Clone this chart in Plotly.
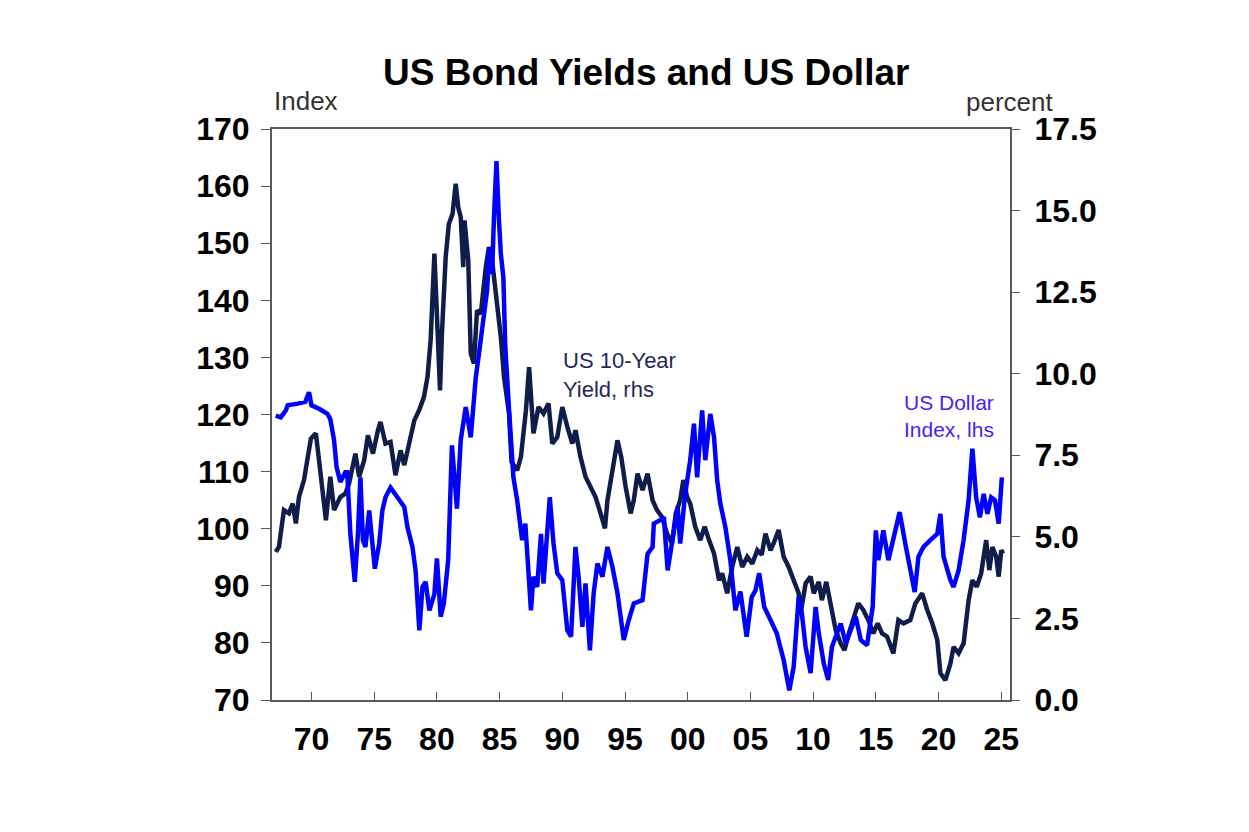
import plotly.graph_objects as go

# ---- data ----
dxy_year = [1967.15, 1967.55, 1967.95, 1968.1, 1968.9, 1969.5, 1969.8, 1970.0, 1970.6, 1971.27, 1971.5, 1971.8,
            1972.0, 1972.3, 1972.7, 1972.85, 1973.1, 1973.45, 1973.7, 1973.9, 1974.1, 1974.3, 1974.6, 1975.05,
            1975.4, 1975.65, 1975.9, 1976.3, 1976.85, 1977.4, 1977.65, 1978.05, 1978.3, 1978.6, 1978.85, 1979.1,
            1979.4, 1979.8, 1980.0, 1980.3, 1980.55, 1980.9, 1981.2, 1981.6, 1981.9, 1982.3, 1982.7, 1982.9,
            1983.1, 1983.35, 1983.6, 1984.0, 1984.2, 1984.4, 1984.55, 1984.75, 1984.95, 1985.1, 1985.3, 1985.45,
            1985.75, 1986.1, 1986.4, 1986.8, 1987.05, 1987.5, 1987.7, 1988.0, 1988.3, 1988.5, 1989.0, 1989.3,
            1989.6, 1990.0, 1990.4, 1990.7, 1991.05, 1991.3, 1991.6, 1991.85, 1992.2, 1992.5, 1992.8, 1993.2,
            1993.6, 1994.0, 1994.4, 1994.9, 1995.3, 1995.7, 1996.4, 1996.8, 1997.2, 1997.3, 1997.8, 1998.1,
            1998.4, 1998.8, 1999.2, 1999.4, 1999.8, 2000.2, 2000.5, 2000.75, 2001.15, 2001.4, 2001.8, 2002.1,
            2002.35, 2002.6, 2003.0, 2003.4, 2003.8, 2004.2, 2004.7, 2005.1, 2005.4, 2005.7, 2006.1, 2006.6,
            2007.1, 2007.65, 2008.1, 2008.45, 2008.85, 2009.1, 2009.4, 2009.8, 2010.2, 2010.45, 2010.85, 2011.2,
            2011.5, 2011.9, 2012.2, 2012.6, 2013.0, 2013.4, 2013.8, 2014.3, 2014.75, 2015.0, 2015.2, 2015.6,
            2016.0, 2016.4, 2016.9, 2017.35, 2017.75, 2018.1, 2018.4, 2018.8, 2019.35, 2019.9, 2020.15, 2020.4,
            2020.95, 2021.2, 2021.6, 2022.0, 2022.4, 2022.7, 2023.0, 2023.3, 2023.6, 2023.9, 2024.2, 2024.5,
            2024.8, 2025.05]
dxy_value = [119.8, 119.5, 120.7, 121.6, 121.9, 122.2, 123.9, 121.6, 121.0, 120.1, 119.2, 115.5,
             110.8, 108.2, 109.9, 109.9, 99.1, 90.7, 99.1, 109.0, 98.0, 96.8, 103.2, 93.0,
             97.4, 103.2, 105.5, 107.2, 105.5, 103.8, 100.3, 96.8, 92.7, 82.2, 89.8, 90.7,
             85.7, 88.6, 94.8, 84.6, 86.9, 94.5, 114.6, 103.5, 115.5, 121.3, 116.0, 122.4,
             126.5, 130.6, 135.3, 141.7, 149.2, 144.6, 154.5, 164.4, 153.9, 148.1, 144.0, 132.0,
             121.0, 109.0, 105.0, 98.0, 100.9, 85.7, 91.6, 89.8, 99.1, 90.4, 105.5, 97.4,
             92.2, 91.0, 82.2, 81.1, 96.8, 91.6, 82.8, 90.4, 78.7, 88.7, 93.9, 91.6,
             96.8, 93.3, 88.7, 80.5, 84.0, 86.9, 87.5, 95.6, 96.8, 100.9, 101.5, 102.0,
             92.7, 98.0, 103.8, 97.4, 106.1, 112.0, 118.4, 109.0, 120.7, 112.0, 120.1, 116.0,
             108.5, 104.4, 100.3, 94.5, 85.7, 89.0, 81.1, 88.0, 89.2, 92.2, 86.3, 84.0,
             81.7, 77.0, 71.7, 75.8, 88.1, 85.2, 79.3, 74.7, 86.3, 81.7, 76.4, 73.5,
             79.3, 81.7, 83.4, 79.9, 82.2, 84.6, 80.5, 79.6, 86.3, 99.7, 94.5, 99.7,
             94.5, 98.0, 102.9, 97.4, 92.7, 88.9, 95.1, 96.8, 98.0, 99.1, 102.6, 95.1,
             91.0, 89.8, 92.7, 98.0, 105.0, 114.0, 105.5, 102.0, 106.1, 102.6, 105.5, 105.0,
             100.9, 109.0]

yld_year = [1967.15, 1967.4, 1967.8, 1968.2, 1968.5, 1968.75, 1969.0, 1969.4, 1969.95, 1970.35, 1970.6, 1970.9,
            1971.15, 1971.5, 1971.8, 1972.3, 1972.7, 1973.0, 1973.5, 1973.8, 1974.2, 1974.5, 1974.9, 1975.3,
            1975.5, 1975.9, 1976.3, 1976.7, 1977.1, 1977.4, 1977.8, 1978.2, 1978.6, 1978.97, 1979.25, 1979.5,
            1979.8, 1980.05, 1980.25, 1980.4, 1980.7, 1980.95, 1981.25, 1981.5, 1981.7, 1981.9, 1982.1, 1982.2,
            1982.5, 1982.7, 1982.95, 1983.2, 1983.5, 1983.9, 1984.15, 1984.4, 1984.7, 1984.9, 1985.1, 1985.35,
            1985.75, 1985.95, 1986.4, 1986.7, 1987.1, 1987.35, 1987.5, 1987.7, 1988.1, 1988.5, 1988.9, 1989.2,
            1989.6, 1990.0, 1990.4, 1990.8, 1991.05, 1991.45, 1991.85, 1992.25, 1992.65, 1993.05, 1993.4, 1993.6,
            1994.0, 1994.4, 1994.7, 1995.05, 1995.45, 1995.7, 1996.0, 1996.4, 1996.8, 1997.2, 1997.55, 1997.95,
            1998.35, 1998.75, 1999.05, 1999.4, 1999.65, 1999.95, 2000.2, 2000.6, 2001.0, 2001.35, 2001.7, 2002.1,
            2002.5, 2002.75, 2003.15, 2003.55, 2003.95, 2004.35, 2004.75, 2005.15, 2005.55, 2005.9, 2006.2, 2006.6,
            2006.85, 2007.25, 2007.65, 2008.05, 2008.45, 2008.85, 2009.0, 2009.4, 2009.8, 2010.05, 2010.45, 2010.7,
            2011.05, 2011.4, 2011.8, 2012.2, 2012.5, 2012.85, 2013.2, 2013.6, 2014.0, 2014.4, 2014.8, 2015.15,
            2015.5, 2015.9, 2016.4, 2016.8, 2017.2, 2017.75, 2018.15, 2018.7, 2019.1, 2019.5, 2019.9, 2020.15,
            2020.55, 2020.95, 2021.2, 2021.6, 2022.0, 2022.4, 2022.7, 2023.05, 2023.4, 2023.8, 2024.05, 2024.3,
            2024.6, 2024.8, 2025.0, 2025.15]
yld_value = [4.54, 4.69, 5.82, 5.72, 6.02, 5.41, 6.22, 6.74, 8.01, 8.17, 7.35, 6.22,
             5.51, 6.84, 5.82, 6.22, 6.33, 6.64, 7.55, 6.84, 7.35, 8.11, 7.55, 8.27,
             8.52, 7.86, 7.91, 6.89, 7.65, 7.20, 7.96, 8.57, 8.90, 9.29, 9.90, 11.02,
             13.68, 11.63, 9.49, 11.23, 13.57, 14.59, 14.90, 15.82, 15.10, 14.80, 13.27, 14.70,
             13.47, 10.62, 10.31, 11.94, 11.84, 13.27, 13.88, 13.47, 12.55, 11.84, 11.12, 9.90,
             8.78, 7.30, 7.04, 7.45, 8.88, 10.20, 9.19, 8.17, 8.98, 8.78, 9.09, 7.86,
             8.06, 8.98, 8.37, 7.86, 8.27, 7.45, 6.84, 6.53, 6.22, 5.72, 5.26, 6.12,
             7.14, 7.96, 7.45, 6.53, 5.72, 6.12, 6.94, 6.43, 6.94, 6.12, 5.82, 5.61,
             5.10, 4.80, 5.72, 6.12, 6.74, 6.22, 6.02, 5.31, 4.90, 5.31, 4.90, 4.49,
             3.67, 3.88, 3.27, 4.08, 4.69, 4.08, 4.39, 4.18, 4.59, 4.45, 5.10, 4.59,
             4.80, 5.21, 4.39, 4.08, 3.67, 3.27, 2.65, 3.57, 3.78, 3.27, 3.62, 3.06,
             3.62, 2.86, 2.14, 1.74, 1.53, 2.04, 2.45, 2.96, 2.76, 2.45, 2.04, 2.35,
             2.04, 1.94, 1.43, 2.45, 2.35, 2.45, 2.96, 3.27, 2.76, 2.35, 1.84, 0.82,
             0.61, 1.12, 1.63, 1.43, 1.74, 3.06, 3.67, 3.47, 3.88, 4.90, 3.98, 4.69,
             4.39, 3.78, 4.59, 4.49]

x_tick_vals = [1970, 1975, 1980, 1985, 1990, 1995, 2000, 2005, 2010, 2015, 2020, 2025]
x_tick_text = ["70", "75", "80", "85", "90", "95", "00", "05", "10", "15", "20", "25"]
left_ticks = [70, 80, 90, 100, 110, 120, 130, 140, 150, 160, 170]
right_ticks = [0.0, 2.5, 5.0, 7.5, 10.0, 12.5, 15.0, 17.5]

NAVY = "#0f1d4a"
BLUE = "#0000ff"
AXIS = "#595959"
FAM = "Liberation Sans, Arial, sans-serif"
TICKFONT = dict(family=FAM, size=32, color="black", weight="bold")

fig = go.Figure()
fig.add_trace(go.Scatter(x=yld_year, y=yld_value, mode="lines", yaxis="y",
                         line=dict(color=NAVY, width=4.5), name="US 10-Year Yield, rhs"))
fig.add_trace(go.Scatter(x=dxy_year, y=dxy_value, mode="lines", yaxis="y2",
                         line=dict(color=BLUE, width=4.5), name="US Dollar Index, lhs"))

fig.update_layout(
    width=1249, height=832,
    paper_bgcolor="white", plot_bgcolor="white",
    showlegend=False,
    margin=dict(l=264, r=247, t=121, b=140),
    title=dict(text="<b>US Bond Yields and US Dollar</b>", x=0.511, xanchor="center", y=0.923, yanchor="middle",
               font=dict(family=FAM, size=37, color="black")),
    xaxis=dict(range=[1966.85, 2025.7], tickvals=x_tick_vals, ticktext=x_tick_text,
               showgrid=False, zeroline=False, showline=True, linecolor=AXIS, linewidth=2, mirror=True,
               ticks="inside", ticklen=8, tickcolor=AXIS, tickwidth=1, tickfont=TICKFONT,
               ticklabelstandoff=10),
    yaxis=dict(side="right", range=[0, 17.5], tickvals=right_ticks,
               ticktext=[f"{v:.1f}" for v in right_ticks],
               showgrid=False, zeroline=False, showline=True, linecolor=AXIS, linewidth=2,
               ticks="outside", ticklen=8, tickcolor=AXIS, tickwidth=1, tickfont=TICKFONT,
               ticklabelstandoff=8),
    yaxis2=dict(side="left", overlaying="y", range=[70, 170], tickvals=left_ticks,
                showgrid=False, zeroline=False, showline=True, linecolor=AXIS, linewidth=2,
                ticks="outside", ticklen=9, tickcolor=AXIS, tickwidth=1, tickfont=TICKFONT,
                ticklabelstandoff=5),
    annotations=[
        dict(text="Index", xref="paper", yref="paper", x=0.0, y=1.0, xanchor="left", yanchor="middle",
             yshift=28, showarrow=False, font=dict(family=FAM, size=26, color="#333333")),
        dict(text="percent", xref="paper", yref="paper", x=1.061, y=1.0, xanchor="right", yanchor="middle",
             yshift=27, showarrow=False, font=dict(family=FAM, size=26, color="#333333")),
        dict(text="US 10-Year<br>Yield, rhs", xref="x", yref="y2", x=1989.86, y=127.0, xanchor="left",
             yanchor="middle", align="left", showarrow=False,
             font=dict(family=FAM, size=22, color="#1f2a5a")),
        dict(text="US Dollar<br>Index, lhs", xref="x", yref="y2", x=2017.1, y=119.7, xanchor="left",
             yanchor="middle", align="left", showarrow=False,
             font=dict(family=FAM, size=21, color="#4422ff")),
    ],
)

fig.write_html("out.html")
